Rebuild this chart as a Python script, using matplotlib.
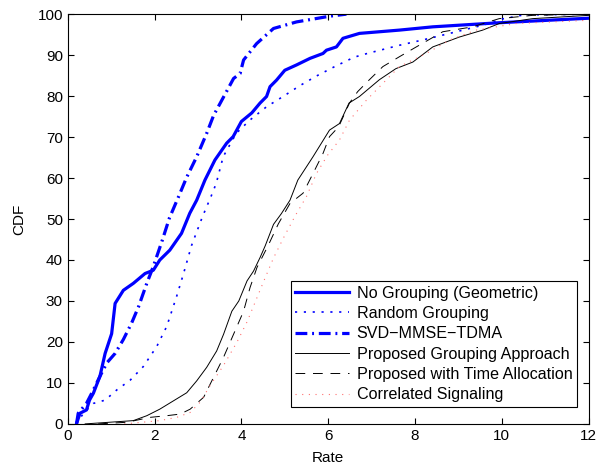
import numpy as np
import matplotlib.pyplot as plt

plt.rcParams['font.family'] = ['Liberation Sans', 'DejaVu Sans']

# No Grouping (Geometric)
x_nogroup = [0.2, 0.28, 0.43, 0.5, 0.59, 0.74, 0.86, 1.01, 1.09, 1.28, 1.51, 1.78, 1.97, 2.12,
             2.35, 2.62, 2.81, 2.97, 3.16, 3.39, 3.66, 3.81, 4.0, 4.24, 4.43, 4.58, 4.66, 4.81,
             5.0, 5.27, 5.58, 5.88, 5.96, 6.19, 6.34, 6.72, 7.64, 8.41, 9.94, 12.0]
y_nogroup = [0, 2.6, 3.4, 5.8, 7.5, 11.6, 17.2, 22, 29.4, 32.6, 34.3, 36.7, 37.5, 40,
             42.4, 46.5, 51.4, 54.6, 59.5, 64.4, 68.5, 70.1, 73.8, 75.9, 78.3, 79.9, 82.3, 83.9,
             86.3, 87.6, 89.2, 90.4, 91.2, 92.0, 94.1, 95.3, 96.1, 96.9, 97.9, 99.0]

# Random Grouping
x_random = [0.2, 0.36, 0.59, 0.86, 1.13, 1.44, 1.74, 2.05, 2.28, 2.51, 2.67, 2.85, 3.1, 3.3,
            3.42, 3.58, 3.88, 4.19, 4.58, 4.96, 5.34, 5.73, 6.15, 6.6, 6.9, 7.64, 8.18, 8.8,
            9.56, 10.0, 10.5, 12.0]
y_random = [0, 2.6, 5.0, 5.8, 8.3, 10.7, 14.0, 18.9, 23.8, 31.2, 36.8, 43.5, 50.5, 55.5,
            58.7, 65.2, 70.9, 74.1, 77.4, 79.9, 82.5, 84.9, 87.2, 89.5, 90.4, 92.4, 93.7, 95.3,
            97.3, 98.8, 99.8, 100]

# SVD-MMSE-TDMA
x_svd = [0.2, 0.24, 0.43, 0.59, 0.74, 0.9, 1.09, 1.28, 1.47, 1.63, 1.82, 1.97, 2.18, 2.34,
         2.55, 2.74, 2.97, 3.2, 3.36, 3.59, 3.82, 3.97, 4.05, 4.35, 4.74, 5.27, 6.04, 6.42]
y_svd = [0, 2.6, 5.0, 8.3, 11.6, 14.9, 17.2, 20.6, 24.6, 28.6, 34.3, 38.4, 44.9, 50.2,
         55.4, 60.2, 65.2, 70.9, 75.3, 79.8, 84.3, 85.5, 88.8, 92.8, 96.5, 98.1, 99.5, 100]

# Proposed Grouping Approach
x_prop = [0.4, 1.51, 1.82, 2.12, 2.43, 2.74, 2.97, 3.2, 3.43, 3.59, 3.78, 3.94, 4.13, 4.28,
          4.43, 4.55, 4.74, 4.92, 5.12, 5.3, 5.65, 6.03, 6.26, 6.48, 6.72, 7.18, 7.56, 7.95,
          8.41, 9.02, 9.56, 9.94, 10.71, 12.0]
y_prop = [0, 0.8, 2.0, 3.6, 5.6, 7.6, 10.5, 13.8, 17.8, 21.9, 27.5, 30.0, 34.9, 37.3,
          40.6, 43.5, 48.7, 51.3, 54.6, 59.5, 65.2, 71.7, 73.3, 78.3, 79.9, 84.0, 86.7, 88.3,
          92.0, 94.4, 96.1, 97.7, 98.9, 99.7]

# Proposed with Time Allocation
x_time = [0.7, 1.36, 1.9, 2.28, 2.59, 2.82, 3.13, 3.36, 3.59, 3.82, 4.05, 4.2, 4.36, 4.62,
          4.85, 5.12, 5.42, 5.65, 5.88, 6.03, 6.24, 6.49, 6.68, 6.95, 7.26, 7.64, 8.03, 8.64,
          9.33, 9.94, 10.71, 12.0]
y_time = [0, 0.4, 1.6, 2.0, 2.4, 3.6, 6.5, 11.4, 16.3, 21.9, 27.5, 33.3, 38.2, 43.6,
          48.8, 53.8, 56.3, 61.1, 66.0, 70.1, 72.5, 78.3, 81.1, 84.0, 87.2, 89.6, 92.0, 95.7,
          96.9, 98.9, 99.7, 100]

# Correlated Signaling
x_corr = [1.3, 2.12, 2.51, 2.82, 3.05, 3.28, 3.59, 3.9, 4.13, 4.32, 4.51, 4.74, 4.97, 5.24,
          5.5, 5.73, 5.98, 6.26, 6.49, 6.88, 7.26, 7.64, 8.26, 8.8, 9.41, 10.33, 12.0]
y_corr = [0, 0.8, 1.6, 2.8, 5.3, 9.4, 14.3, 20.0, 24.9, 29.8, 34.7, 40.5, 45.4, 50.8,
          55.5, 61.1, 65.5, 69.3, 74.1, 79.0, 83.1, 87.2, 90.4, 93.7, 96.1, 97.7, 98.5]

fig = plt.figure(figsize=(6, 4.71), dpi=100)
ax = fig.add_axes([0.113, 0.1, 0.868, 0.87])

ax.plot(x_nogroup, y_nogroup, color='#0000ff', lw=2.3, label='No Grouping (Geometric)')
ax.plot(x_random, y_random, color='#0000ff', lw=1.2, ls=(0, (1.3, 4)), label='Random Grouping')
ax.plot(x_svd, y_svd, color='#0000ff', lw=2.3, ls=(0, (3.7, 1.5, 0.6, 1.5)), label='SVD\u2212MMSE\u2212TDMA')
ax.plot(x_prop, y_prop, color='black', lw=0.7, label='Proposed Grouping Approach')
ax.plot(x_time, y_time, color='black', lw=0.7, ls=(0, (10, 8)), label='Proposed with Time Allocation')
ax.plot(x_corr, y_corr, color='#ff7070', lw=0.8, ls=(0, (1, 5)), label='Correlated Signaling')

ax.set_xlim(0, 12)
ax.set_ylim(0, 100)
ax.set_xticks(np.arange(0, 13, 2))
ax.set_yticks(np.arange(0, 101, 10))
ax.tick_params(direction='in', top=True, right=True, labelsize=11, length=4)
ax.set_xlabel('Rate', fontsize=11, labelpad=6)
ax.set_ylabel('CDF', fontsize=11, labelpad=8)

leg = ax.legend(loc='lower right', bbox_to_anchor=(0.978, 0.041), fontsize=11.6,
                fancybox=False, framealpha=1, edgecolor='black', handlelength=3.3,
                borderpad=0.3, labelspacing=0.33, handletextpad=0.5, borderaxespad=0)
leg.get_frame().set_linewidth(0.8)

plt.savefig('out.png')
